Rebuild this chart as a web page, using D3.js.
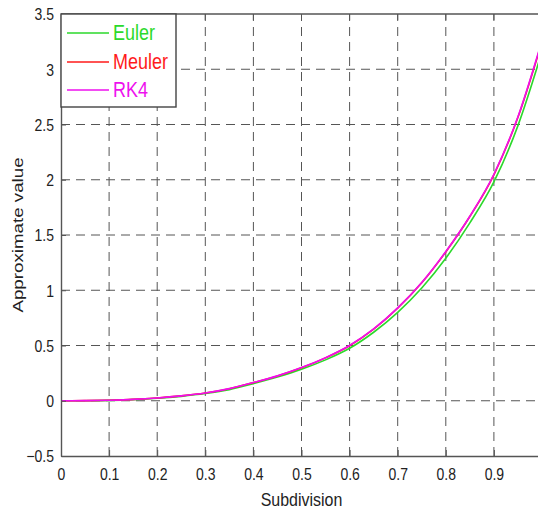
<!DOCTYPE html>
<html>
<head>
<meta charset="utf-8">
<script src="https://cdn.jsdelivr.net/npm/d3@7"></script>
<style>
    body { margin: 0; background: #fff; }
    text { font-family: "Liberation Sans", Arial, sans-serif; }
</style>
</head>
<body>
<div id="chart"></div>
<script>
// values
let subdivision = [0, 0.05, 0.1, 0.15, 0.2, 0.25, 0.3, 0.35, 0.4, 0.45, 0.5,
    0.55, 0.6, 0.65, 0.7, 0.75, 0.8, 0.85, 0.9, 0.95, 1.0];
let euler = [0, 0, 0.003, 0.01, 0.022, 0.04, 0.065, 0.10, 0.155, 0.215, 0.285,
    0.37, 0.475, 0.62, 0.80, 1.02, 1.29, 1.61, 1.98, 2.49, 3.16];
let meuler = [0, 0.001, 0.005, 0.012, 0.025, 0.044, 0.07, 0.109, 0.164, 0.224, 0.298,
    0.388, 0.498, 0.648, 0.838, 1.067, 1.347, 1.667, 2.045, 2.565, 3.25];
let rk4 = [0, 0.001, 0.005, 0.012, 0.025, 0.044, 0.07, 0.11, 0.165, 0.225, 0.30,
    0.39, 0.50, 0.65, 0.84, 1.07, 1.35, 1.67, 2.05, 2.57, 3.26];

let xTicks = [0, 0.1, 0.2, 0.3, 0.4, 0.5, 0.6, 0.7, 0.8, 0.9, 1];
let yTicks = [-0.5, 0, 0.5, 1, 1.5, 2, 2.5, 3, 3.5];

let seriesNames = ["Euler", "Meuler", "RK4"];
let seriesColors = ["#2bd92b", "#ff1a1a", "#ee10ee"];
let seriesValues = [euler, meuler, rk4];

let width = 538, height = 512;
let plot = {left: 61, top: 14, right: 542, bottom: 456};
let stretch = 1.18; // text in the picture is a bit taller than wide

let svg = d3.select("#chart").append("svg")
    .attr("width", width)
    .attr("height", height);

let x = d3.scaleLinear().domain([0, 1]).range([plot.left, plot.right]);
let y = d3.scaleLinear().domain([-0.5, 3.5]).range([plot.bottom, plot.top]);

svg.append("defs").append("clipPath")
    .attr("id", "plot-clip")
    .append("rect")
    .attr("x", plot.left)
    .attr("y", plot.top)
    .attr("width", plot.right - plot.left)
    .attr("height", plot.bottom - plot.top);

// grid
let grid = svg.append("g").attr("class", "grid");
grid.selectAll(".vgrid")
    .data(xTicks.filter(d => d > 0 && d < 1))
    .enter().append("line")
    .attr("x1", d => x(d)).attr("x2", d => x(d))
    .attr("y1", plot.bottom).attr("y2", plot.top)
    .attr("stroke", "#555")
    .attr("stroke-width", 1)
    .attr("stroke-dasharray", "9,6");
grid.selectAll(".hgrid")
    .data(yTicks.filter(d => d > -0.5 && d < 3.5))
    .enter().append("line")
    .attr("x1", plot.left).attr("x2", width)
    .attr("y1", d => y(d)).attr("y2", d => y(d))
    .attr("stroke", "#555")
    .attr("stroke-width", 1)
    .attr("stroke-dasharray", "9,6");

// curves
let line = d3.line()
    .x((d, i) => x(subdivision[i]))
    .y(d => y(d))
    .curve(d3.curveMonotoneX);

svg.append("g")
    .attr("clip-path", "url(#plot-clip)")
    .selectAll("path")
    .data(seriesValues)
    .enter().append("path")
    .attr("d", d => line(d))
    .attr("fill", "none")
    .attr("stroke", (d, i) => seriesColors[i])
    .attr("stroke-width", 1.6);

// axes
let xAxis = d3.axisBottom(x).tickValues(xTicks).tickSizeInner(-6).tickSizeOuter(0)
    .tickFormat(d3.format("~g"));
let yAxis = d3.axisLeft(y).tickValues(yTicks).tickSizeInner(-5).tickSizeOuter(0)
    .tickFormat(d3.format("~g"));

let xAxisGroup = svg.append("g")
    .attr("class", "x-axis")
    .attr("transform", "translate(0," + plot.bottom + ")")
    .call(xAxis);
let yAxisGroup = svg.append("g")
    .attr("class", "y-axis")
    .attr("transform", "translate(" + plot.left + ",0)")
    .call(yAxis);

[xAxisGroup, yAxisGroup].forEach(g => {
    g.select(".domain").attr("stroke", "#555").attr("stroke-width", 1.4);
    g.selectAll(".tick line").attr("stroke", "#555");
    g.selectAll("text")
        .attr("font-size", "14px")
        .attr("fill", "#222");
});

xAxisGroup.selectAll("text")
    .attr("dy", null)
    .attr("y", 24 / stretch)
    .attr("transform", "scale(1," + stretch + ")");
yAxisGroup.selectAll("text")
    .attr("x", -7)
    .attr("dy", "0.36em")
    .attr("y", 0)
    .attr("transform", "scale(1," + stretch + ")");

// top frame line
svg.append("line")
    .attr("x1", plot.left).attr("x2", width)
    .attr("y1", plot.top).attr("y2", plot.top)
    .attr("stroke", "#555").attr("stroke-width", 1.4);
svg.selectAll(".top-tick")
    .data(xTicks.filter(d => d > 0))
    .enter().append("line")
    .attr("x1", d => x(d)).attr("x2", d => x(d))
    .attr("y1", plot.top).attr("y2", plot.top + 6)
    .attr("stroke", "#555");

// axis titles
svg.append("text")
    .attr("transform", "translate(" + (x(0.5)) + ",506) scale(1," + stretch + ")")
    .attr("text-anchor", "middle")
    .attr("font-size", "16px")
    .attr("fill", "#222")
    .text("Subdivision");

svg.append("text")
    .attr("transform", "translate(23," + ((plot.top + plot.bottom) / 2) + ") rotate(-90) scale(1.25,1)")
    .attr("text-anchor", "middle")
    .attr("font-size", "15px")
    .attr("fill", "#222")
    .text("Approximate value");

// legend
let legend = svg.append("g").attr("class", "legend");
legend.append("rect")
    .attr("x", plot.left)
    .attr("y", plot.top)
    .attr("width", 115)
    .attr("height", 93)
    .attr("fill", "#fff")
    .attr("stroke", "#444")
    .attr("stroke-width", 1.4);

let rowY = [33, 62, 90];
seriesNames.forEach((name, i) => {
    legend.append("line")
        .attr("x1", 67).attr("x2", 109)
        .attr("y1", rowY[i]).attr("y2", rowY[i])
        .attr("stroke", seriesColors[i])
        .attr("stroke-width", 1.4);
    legend.append("text")
        .attr("transform", "translate(113," + (rowY[i] + 7) + ") scale(1," + stretch + ")")
        .attr("font-size", "18px")
        .attr("fill", seriesColors[i])
        .text(name);
});
</script>
</body>
</html>
